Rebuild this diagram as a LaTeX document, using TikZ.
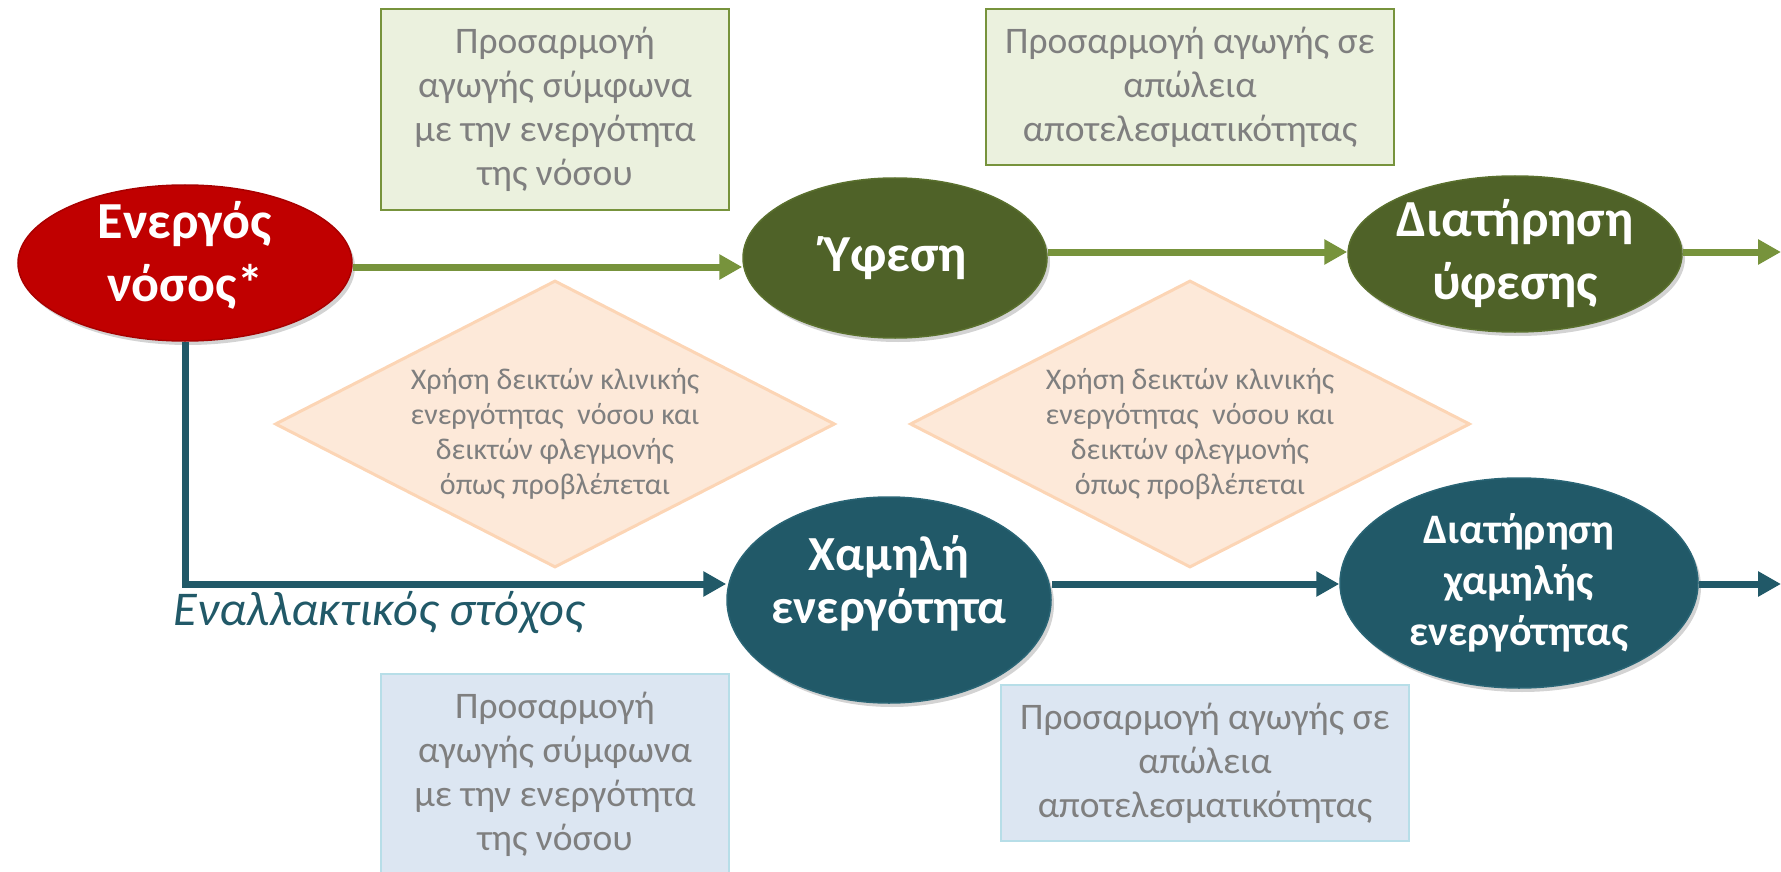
\documentclass[tikz,border=0pt]{standalone}
\usepackage{fontspec}
\setmainfont{Carlito}
\usetikzlibrary{shapes.geometric,arrows.meta,shadows,calc}

\definecolor{redfill}{HTML}{C00000}
\definecolor{redrim}{HTML}{A80000}
\definecolor{olivefill}{HTML}{4F6228}
\definecolor{oliverim}{HTML}{5A702E}
\definecolor{tealfill}{HTML}{215968}
\definecolor{tealrim}{HTML}{2A6575}
\definecolor{arrowgreen}{HTML}{77933C}
\definecolor{greenbox}{HTML}{EBF1DE}
\definecolor{bluebox}{HTML}{DCE6F2}
\definecolor{blueline}{HTML}{B7DEE8}
\definecolor{peachfill}{HTML}{FDE9D9}
\definecolor{peachline}{HTML}{FCD5B5}
\definecolor{greytext}{HTML}{7F7F7F}

\begin{document}
\begin{tikzpicture}[x=1pt,y=-1pt,
  oval/.style={ellipse, inner sep=0pt, line width=1.5pt,
    drop shadow={opacity=0.35, shadow xshift=3pt, shadow yshift=-4pt}},
  redoval/.style={oval, fill=redfill, draw=redrim},
  oliveoval/.style={oval, fill=olivefill, draw=oliverim},
  tealoval/.style={oval, fill=tealfill, draw=tealrim},
  ovaltext/.style={inner sep=0pt, text=white, align=center,
    font=\bfseries\fontsize{52}{63}\selectfont},
  notebox/.style={rectangle, inner sep=0pt, align=center, text=greytext,
    line width=2pt, font=\fontsize{37.5}{44}\selectfont},
  greenbox/.style={notebox, fill=greenbox, draw=arrowgreen},
  bluebox/.style={notebox, fill=bluebox, draw=blueline},
  checkdiamond/.style={diamond, aspect=1.95, inner sep=0pt,
    fill=peachfill, draw=peachline, line width=3pt,
    minimum width=560pt, minimum height=287pt},
  diamondtext/.style={inner sep=0pt, align=center, text=greytext,
    font=\fontsize{30}{35}\selectfont},
  flow/.style={line width=7pt, -{Triangle[length=23pt,width=24pt]}},
  greenflow/.style={flow, draw=arrowgreen},
  tealflow/.style={flow, draw=tealfill},
]
\useasboundingbox (0,0) rectangle (1781,872);
\clip (0,0) rectangle (1781,872);

% advice boxes
\node[greenbox, minimum width=348pt, minimum height=201pt] (tlbox) at (555,109.5)
  {Προσαρμογή\\αγωγής σύμφωνα\\με την ενεργότητα\\της νόσου};
\node[greenbox, minimum width=408pt, minimum height=156pt] (trbox) at (1190,87)
  {Προσαρμογή αγωγής σε\\απώλεια\\αποτελεσματικότητας};
\node[bluebox, minimum width=348pt, minimum height=201pt] (blbox) at (555,774.5)
  {Προσαρμογή\\αγωγής σύμφωνα\\με την ενεργότητα\\της νόσου};
\node[bluebox, minimum width=408pt, minimum height=156pt] (brbox) at (1205,763)
  {Προσαρμογή αγωγής σε\\απώλεια\\αποτελεσματικότητας};

% monitoring diamonds
\node[checkdiamond] (dleft) at (555,424) {};
\node[checkdiamond] (dright) at (1190,424) {};
\node[diamondtext] (dlefttext) at ($(dleft)+(0,10)$)
  {Χρήση δεικτών κλινικής\\ενεργότητας\ \ νόσου και\\δεικτών φλεγμονής\\όπως προβλέπεται};
\node[diamondtext] (drighttext) at ($(dright)+(0,10)$)
  {Χρήση δεικτών κλινικής\\ενεργότητας\ \ νόσου και\\δεικτών φλεγμονής\\όπως προβλέπεται};

% disease states
\node[redoval, minimum width=334pt, minimum height=156pt] (active) at (185,263) {};
\node[oliveoval, minimum width=304pt, minimum height=160pt] (remission) at (895,258) {};
\node[oliveoval, minimum width=334pt, minimum height=156pt] (keeprem) at (1515,254) {};
\node[tealoval, minimum width=324pt, minimum height=206pt] (low) at (889,600) {};
\node[tealoval, minimum width=358pt, minimum height=210pt] (keeplow) at (1519,583) {};

\node[ovaltext] (activetext) at ($(active)+(0,-8)$) {Ενεργός\\νόσος*};
\node[ovaltext] (remissiontext) at (remission) {Ύφεση};
\node[ovaltext] (keepremtext) at (keeprem) {Διατήρηση\\ύφεσης};
\node[ovaltext, font=\bfseries\fontsize{49}{53}\selectfont] (lowtext)
  at ($(low)+(0,-17)$) {Χαμηλή\\ενεργότητα};
\node[ovaltext, font=\bfseries\fontsize{42}{51}\selectfont] (keeplowtext)
  at (keeplow) {Διατήρηση\\χαμηλής\\ενεργότητας};

\node[text=tealfill, font=\itshape\fontsize{48.5}{58}\selectfont] (alt) at (379,613)
  {Εναλλακτικός στόχος};

% connectors
\coordinate (toprow) at (0,267);
\coordinate (midrow) at (0,252);
\coordinate (lowrow) at (0,584);
\coordinate (outtop) at (1781,252);
\coordinate (outlow) at (1781,584);

\draw[greenflow] (active.east |- toprow) -- (remission.west |- toprow);
\draw[greenflow] (remission.east |- midrow) -- (keeprem.west |- midrow);
\draw[greenflow] (keeprem.east |- midrow) -- (outtop);
\draw[tealflow] (active.south) |- (low.west |- lowrow);
\draw[tealflow] (low.east |- lowrow) -- (keeplow.west |- lowrow);
\draw[tealflow] (keeplow.east |- lowrow) -- (outlow);
\end{tikzpicture}
\end{document}
